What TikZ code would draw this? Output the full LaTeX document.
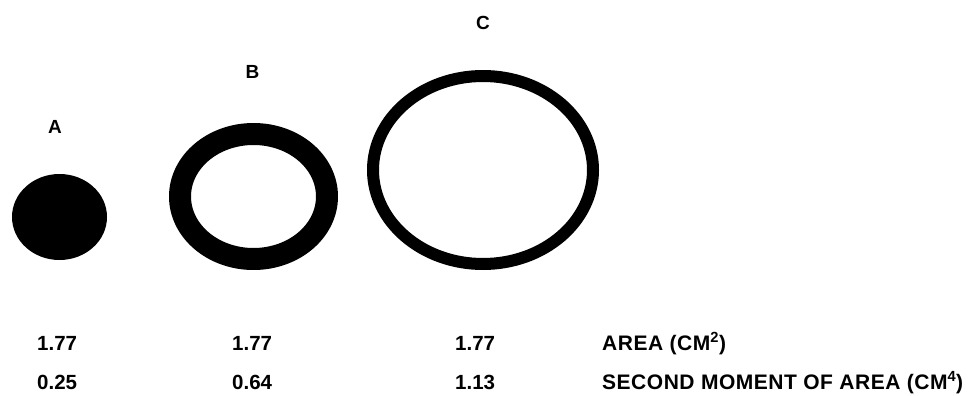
\documentclass[tikz,border=0pt]{standalone}
\usepackage{fontspec}
\setmainfont{Liberation Sans}
\begin{document}
\begin{tikzpicture}[x=1pt, y=-1pt, line join=round, line cap=round,
    sect/.style={font=\bfseries\fontsize{19}{19}\selectfont},
    val/.style={font=\bfseries\fontsize{20.5}{20.5}\selectfont, anchor=base west, inner sep=0pt},
    caption/.style={val, font=\bfseries\fontsize{21}{21}\selectfont\addfontfeature{LetterSpace=2.5}}]
  \useasboundingbox (0,0) rectangle (975,396);
  \coordinate (A) at (59.5,217);
  \coordinate (B) at (253.5,196.5);
  \coordinate (C) at (483,170);

  \fill (A) ellipse [x radius=47.5, y radius=43];
  \draw[line width=22pt] (B) ellipse [x radius=73.5, y radius=62.5];
  \draw[line width=12pt] (C) ellipse [x radius=110, y radius=94];

  \node[sect] (labA) at (55,127) {A};
  \node[sect] (labB) at (252.5,72) {B};
  \node[sect] (labC) at (483,23) {C};

  \foreach \x/\a/\s [count=\i] in {37/1.77/0.25, 232/1.77/0.64, 455/1.77/1.13} {
    \node[val] (area\i) at (\x,350) {\a};
    \node[val] (smom\i) at (\x,389) {\s};
  }
  \node[caption] (areaname) at (602,350) {AREA (CM\textsuperscript{2})};
  \node[caption] (smomname) at (602,389) {SECOND MOMENT OF AREA (CM\textsuperscript{4})};
\end{tikzpicture}
\end{document}
